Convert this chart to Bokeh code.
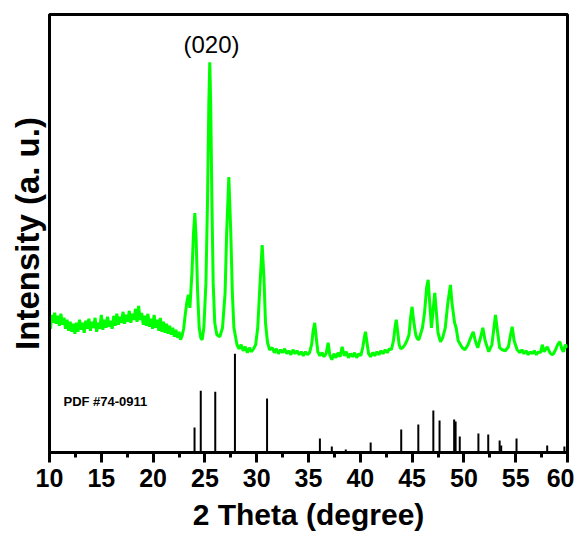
from bokeh.plotting import figure
from bokeh.models import Range1d, FixedTicker, Label
from bokeh.embed import file_html
from bokeh.resources import INLINE

# XRD pattern (2theta in degrees, intensity in a.u.)
two_theta = [
    10.00, 10.10, 10.20, 10.35, 10.50, 10.65, 10.80, 10.95, 11.10, 11.25,
    11.40, 11.55, 11.70, 11.85, 12.00, 12.15, 12.30, 12.45, 12.60, 12.75,
    12.90, 13.05, 13.20, 13.35, 13.50, 13.65, 13.80, 13.95, 14.10, 14.25,
    14.40, 14.55, 14.70, 14.85, 15.00, 15.15, 15.30, 15.45, 15.60, 15.75,
    15.90, 16.05, 16.20, 16.35, 16.50, 16.65, 16.80, 16.95, 17.10, 17.25,
    17.40, 17.55, 17.70, 17.85, 18.00, 18.15, 18.30, 18.45, 18.60, 18.75,
    18.90, 19.05, 19.20, 19.35, 19.50, 19.65, 19.80, 19.95, 20.10, 20.25,
    20.40, 20.55, 20.70, 20.85, 21.00, 21.15, 21.30, 21.45, 21.60, 21.75,
    21.90, 22.05, 22.20, 22.35, 22.50, 22.65, 22.80, 22.95, 23.10, 23.25,
    23.40, 23.55, 23.75, 23.90, 24.03, 24.15, 24.30, 24.45, 24.60, 24.74,
    24.90, 25.10, 25.25, 25.38, 25.47, 25.56, 25.68, 25.80, 25.95, 26.15,
    26.44, 26.70, 26.95, 27.10, 27.31, 27.50, 27.65, 27.80, 28.10, 28.30,
    28.50, 28.70, 28.90, 29.10, 29.30, 29.50, 29.70, 29.90, 30.10, 30.30,
    30.53, 30.70, 30.85, 31.05, 31.25, 31.50, 31.70, 31.90, 32.10, 32.30,
    32.50, 32.70, 32.90, 33.10, 33.30, 33.50, 33.70, 33.90, 34.10, 34.30,
    34.50, 34.70, 34.90, 35.10, 35.30, 35.45, 35.60, 35.75, 35.90, 36.10,
    36.30, 36.50, 36.70, 36.90, 37.05, 37.25, 37.45, 37.65, 37.85, 38.05,
    38.25, 38.45, 38.65, 38.85, 39.05, 39.25, 39.45, 39.65, 39.85, 40.05,
    40.25, 40.40, 40.50, 40.65, 40.80, 41.00, 41.20, 41.40, 41.60, 41.80,
    42.00, 42.20, 42.40, 42.60, 42.80, 43.00, 43.20, 43.35, 43.47, 43.60,
    43.75, 43.90, 44.10, 44.30, 44.50, 44.70, 44.85, 45.00, 45.15, 45.35,
    45.50, 45.65, 45.80, 46.00, 46.20, 46.40, 46.55, 46.70, 46.87, 47.00,
    47.19, 47.35, 47.50, 47.74, 47.95, 48.20, 48.45, 48.70, 48.85, 49.10,
    49.25, 49.45, 49.84, 50.10, 50.40, 50.65, 50.90, 51.10, 51.34, 51.60,
    51.83, 52.05, 52.40, 52.70, 52.90, 53.05, 53.20, 53.45, 53.70, 54.00,
    54.30, 54.50, 54.66, 54.85, 55.14, 55.40, 55.60, 55.80, 56.00, 56.20,
    56.40, 56.60, 56.80, 57.00, 57.20, 57.40, 57.56, 57.75, 58.04, 58.30,
    58.50, 58.65, 58.85, 59.05, 59.26, 59.45, 59.60, 59.80, 60.00,
]
intensity = [
    140, 124, 138, 130, 140, 129, 137, 127, 139, 128,
    135, 124, 133, 122, 131, 121, 129, 119, 130, 121,
    133, 123, 130, 120, 132, 124, 134, 122, 131, 125,
    135, 121, 130, 124, 138, 123, 133, 125, 136, 126,
    132, 124, 137, 127, 139, 128, 136, 130, 141, 129,
    138, 131, 142, 130, 139, 133, 144, 131, 147, 133,
    140, 128, 137, 127, 139, 126, 134, 124, 138, 125,
    133, 122, 135, 121, 131, 120, 129, 119, 127, 118,
    125, 116, 123, 115, 121, 113, 117, 124, 138, 150,
    158, 145, 180, 220, 240, 215, 160, 125, 115, 113,
    125, 170, 250, 350, 391, 350, 250, 170, 130, 118,
    116, 125, 160, 220, 276, 220, 160, 125, 108, 104,
    108, 102, 106, 100, 105, 101, 104, 108, 125, 165,
    208, 175, 130, 110, 103, 105, 100, 104, 99, 103,
    100, 104, 99, 102, 98, 103, 99, 102, 98, 101,
    97, 101, 98, 100, 108, 122, 130, 115, 101, 97,
    100, 96, 99, 110, 98, 93, 99, 95, 100, 96,
    106, 97, 101, 95, 99, 96, 100, 95, 99, 97,
    106, 116, 121, 110, 99, 96, 100, 97, 101, 98,
    102, 99, 103, 100, 104, 103, 112, 125, 133, 122,
    108, 104, 105, 108, 112, 118, 135, 146, 132, 118,
    114, 113, 118, 125, 140, 165, 173, 150, 125, 140,
    160, 140, 120, 111, 115, 125, 150, 168, 150, 130,
    125, 112, 105, 103, 108, 115, 121, 112, 105, 115,
    125, 112, 101, 108, 125, 138, 125, 105, 103, 102,
    106, 118, 126, 112, 103, 100, 103, 99, 102, 98,
    101, 99, 102, 98, 101, 100, 108, 101, 106, 100,
    98, 99, 103, 108, 111, 104, 101, 108, 105,
]

# Reference pattern PDF #74-0911 (stick positions and relative heights)
pdf_pos = [24.0, 24.6, 26.0, 27.9, 31.0, 36.1, 37.25, 38.6, 41.0, 43.95,
           45.6, 47.05, 47.65, 49.06, 49.2, 49.6, 51.4, 52.35, 53.45, 53.6,
           55.08, 58.04, 59.7]
pdf_height = [25, 62, 61, 99, 54, 14, 6, 3, 10, 23,
              28, 42, 32, 33, 31, 16, 19, 18, 12, 7,
              14, 7, 6]

x_ticks = [10, 15, 20, 25, 30, 35, 40, 45, 50, 55, 60]
x_minor = [12.5, 17.5, 22.5, 27.5, 32.5, 37.5, 42.5, 47.5, 52.5, 57.5]

FONT = "Liberation Sans"

p = figure(width=574, height=533, output_backend="svg", toolbar_location=None,
           x_range=Range1d(10, 60), y_range=Range1d(0, 439),
           min_border_left=49, min_border_right=7, min_border_top=14,
           min_border_bottom=80)
p.background_fill_color = "white"
p.border_fill_color = "white"
p.xgrid.visible = False
p.ygrid.visible = False
p.outline_line_color = "black"
p.outline_line_width = 3

p.line(two_theta, intensity, line_color="#00ff00", line_width=3)
p.segment(x0=pdf_pos, y0=[0] * len(pdf_pos), x1=pdf_pos, y1=pdf_height,
          line_color="black", line_width=2)

p.xaxis.ticker = FixedTicker(ticks=x_ticks, minor_ticks=x_minor)
p.xaxis.axis_line_width = 3
p.xaxis.major_tick_line_width = 3
p.xaxis.minor_tick_line_width = 3
p.xaxis.major_tick_in = 0
p.xaxis.major_tick_out = 10
p.xaxis.minor_tick_in = 0
p.xaxis.minor_tick_out = 5
p.xaxis.major_label_text_font = FONT
p.xaxis.major_label_text_font_style = "bold"
p.xaxis.major_label_text_font_size = "25px"
p.xaxis.major_label_text_color = "black"
p.xaxis.major_label_standoff = 6
p.xaxis.axis_label = "2 Theta (degree)"
p.xaxis.axis_label_text_font = FONT
p.xaxis.axis_label_text_font_style = "bold"
p.xaxis.axis_label_text_font_size = "30px"
p.xaxis.axis_label_text_color = "black"
p.xaxis.axis_label_standoff = 8

p.yaxis.ticker = FixedTicker(ticks=[])
p.yaxis.axis_line_width = 3
p.yaxis.major_tick_line_color = None
p.yaxis.minor_tick_line_color = None
p.yaxis.major_label_text_font_size = "0px"
p.yaxis.axis_label = "Intensity (a. u.)"
p.yaxis.axis_label_text_font = FONT
p.yaxis.axis_label_text_font_style = "bold"
p.yaxis.axis_label_text_font_size = "33px"
p.yaxis.axis_label_text_color = "black"
p.yaxis.axis_label_standoff = 4

p.add_layout(Label(x=25.64, y=409, text="(020)", text_font=FONT,
                   text_font_size="24px", text_align="center",
                   text_baseline="middle", text_color="black"))
p.add_layout(Label(x=11.35, y=51.5, text="PDF #74-0911", text_font=FONT,
                   text_font_size="13px", text_font_style="bold",
                   text_align="left", text_baseline="middle",
                   text_color="black"))

open("out.html", "w").write(file_html(p, INLINE))
